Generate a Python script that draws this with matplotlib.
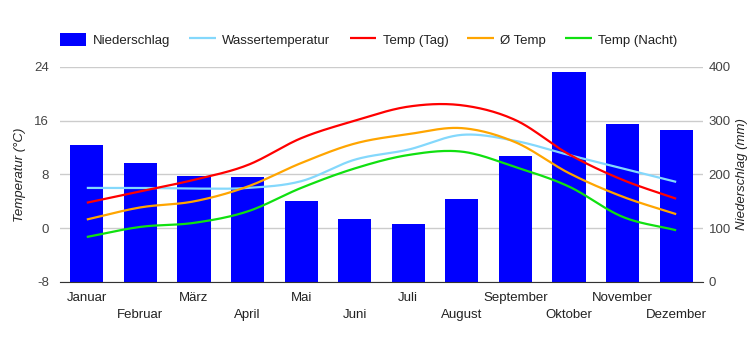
"""Klimadiagramm: Niederschlag und Temperaturen."""
import matplotlib
matplotlib.use("Agg")
import matplotlib.pyplot as plt
import numpy as np

plt.rcParams['font.family'] = ['Liberation Sans', 'DejaVu Sans']
plt.rcParams['axes.unicode_minus'] = False

months = ['Januar', 'Februar', 'März', 'April', 'Mai', 'Juni', 'Juli',
          'August', 'September', 'Oktober', 'November', 'Dezember']
niederschlag = [255, 221, 197, 195, 151, 117, 108, 154, 235, 391, 294, 283]
wasser = [6.0, 6.0, 5.9, 6.0, 7.0, 10.2, 11.7, 13.9, 13.0, 10.9, 8.9, 6.9]
temp_tag = [3.8, 5.5, 7.2, 9.4, 13.4, 16.0, 18.1, 18.3, 16.1, 11.0, 7.2, 4.4]
temp_avg = [1.3, 3.1, 4.0, 6.2, 9.7, 12.6, 14.0, 14.9, 12.8, 8.2, 4.7, 2.1]
temp_nacht = [-1.3, 0.2, 0.8, 2.5, 6.0, 8.9, 10.9, 11.4, 9.1, 6.2, 1.7, -0.3]

temp_ticks = [-8, 0, 8, 16, 24]
rain_ticks = [0, 100, 200, 300, 400]

TEXT = '#444444'


def smooth(x, y, n=24):
    """Catmull-Rom curve through the given points (drawing only)."""
    x = np.asarray(x, float)
    y = np.asarray(y, float)
    px = np.concatenate([[2 * x[0] - x[1]], x, [2 * x[-1] - x[-2]]])
    py = np.concatenate([[2 * y[0] - y[1]], y, [2 * y[-1] - y[-2]]])
    xs, ys = [], []
    t = np.linspace(0, 1, n, endpoint=False)
    for i in range(1, len(px) - 2):
        for p, out in ((px, xs), (py, ys)):
            p0, p1, p2, p3 = p[i - 1], p[i], p[i + 1], p[i + 2]
            out.extend(0.5 * (2 * p1 + (-p0 + p2) * t
                              + (2 * p0 - 5 * p1 + 4 * p2 - p3) * t ** 2
                              + (-p0 + 3 * p1 - 3 * p2 + p3) * t ** 3))
    xs.append(x[-1])
    ys.append(y[-1])
    return np.array(xs), np.array(ys)


fig = plt.figure(figsize=(7.5, 3.5), dpi=100)
ax = fig.add_axes([0.08, 0.1943, 0.8573, 0.6143])
x = np.arange(len(months))

bars = ax.bar(x, niederschlag, width=0.62, color='#0000ff', zorder=2,
              label='Niederschlag')
ax.set_ylim(0, 400)
ax.set_xlim(-0.5, len(months) - 0.5)
ax.set_yticks(rain_ticks)
ax.grid(axis='y', color='#cccccc', linewidth=1, zorder=0)
ax.set_axisbelow(True)

# staggered month labels: first row on major ticks, second row on minor ticks
ax.set_xticks(x[::2])
ax.set_xticklabels(months[::2])
ax.set_xticks(x[1::2], minor=True)
ax.set_xticklabels(months[1::2], minor=True)
ax.tick_params(axis='x', which='major', length=0, pad=7, labelsize=9.5,
               labelcolor='#222222')
ax.tick_params(axis='x', which='minor', length=0, pad=19.5, labelsize=9.5,
               labelcolor='#222222')

for side in ('top', 'left', 'right'):
    ax.spines[side].set_visible(False)
ax.spines['bottom'].set_color('#333333')
ax.spines['bottom'].set_zorder(5)

axt = ax.twinx()
axt.set_ylim(-8, 24)
axt.set_yticks(temp_ticks)
for side in ('top', 'left', 'right', 'bottom'):
    axt.spines[side].set_visible(False)

# twinx moves the original ticks to the left, so set both sides afterwards
ax.yaxis.tick_right()
ax.yaxis.set_label_position('right')
ax.tick_params(axis='y', length=0, pad=4, labelsize=9.5, labelcolor=TEXT)
ax.set_ylabel('Niederschlag (mm)', fontsize=9.5, style='italic',
              color='#222222', labelpad=4)

axt.yaxis.tick_left()
axt.yaxis.set_label_position('left')
axt.tick_params(axis='y', length=0, pad=8, labelsize=9.5, labelcolor=TEXT)
axt.set_ylabel('Temperatur (°C)', fontsize=9.5, style='italic',
               color='#222222', labelpad=6)

series = [
    (wasser, '#84d8fc', 'Wassertemperatur'),
    (temp_tag, '#ff0000', 'Temp (Tag)'),
    (temp_avg, '#ffa500', 'Ø Temp'),
    (temp_nacht, '#10e010', 'Temp (Nacht)'),
]
handles = [bars]
for vals, color, label in series:
    sx, sy = smooth(x, vals)
    line, = axt.plot(sx, sy, color=color, linewidth=1.6, label=label,
                     solid_capstyle='butt')
    handles.append(line)

fig.legend(handles, [h.get_label() for h in handles], loc='center left',
           bbox_to_anchor=(0.064, 0.886), ncol=5, frameon=False,
           fontsize=9.5, handlelength=2.0, handleheight=1.1,
           handletextpad=0.5, columnspacing=1.45, labelcolor='#222222')

plt.savefig('out.png', dpi=100)
plt.close()
